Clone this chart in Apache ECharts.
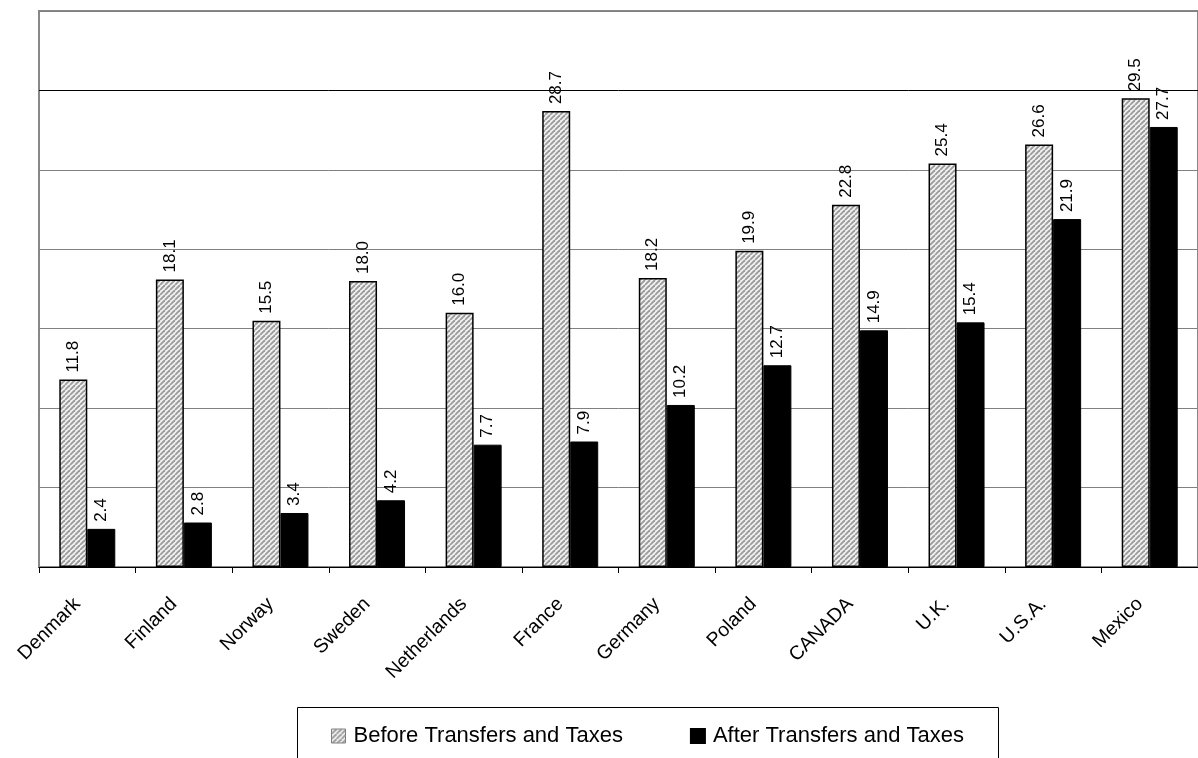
<!DOCTYPE html>
<html>
<head>
<meta charset="utf-8">
<script src="https://cdn.jsdelivr.net/npm/echarts@6/dist/echarts.min.js"></script>
<style>
  html, body { margin: 0; padding: 0; background: #fff; }
  #chart { width: 1198px; height: 758px; }
</style>
</head>
<body>
<div id="chart"></div>
<script>
const countries = ['Denmark', 'Finland', 'Norway', 'Sweden', 'Netherlands', 'France',
  'Germany', 'Poland', 'CANADA', 'U.K.', 'U.S.A.', 'Mexico'];
const beforeValues = [11.8, 18.1, 15.5, 18.0, 16.0, 28.7, 18.2, 19.9, 22.8, 25.4, 26.6, 29.5];
const afterValues = [2.4, 2.8, 3.4, 4.2, 7.7, 7.9, 10.2, 12.7, 14.9, 15.4, 21.9, 27.7];
const seriesNames = ['Before Transfers and Taxes', 'After Transfers and Taxes'];

const FONT = 'Arial, "Liberation Sans", sans-serif';

// diagonal hatch fill for the "before" bars
function makeHatch() {
  const n = 5;
  const c = document.createElement('canvas');
  c.width = n;
  c.height = n;
  const ctx = c.getContext('2d');
  ctx.fillStyle = '#f2f2f2';
  ctx.fillRect(0, 0, n, n);
  ctx.strokeStyle = '#9c9c9c';
  ctx.lineWidth = 1.9;
  for (let k = -n; k <= 2 * n; k += n) {
    ctx.beginPath();
    ctx.moveTo(k, n);
    ctx.lineTo(k + n, 0);
    ctx.stroke();
  }
  return c;
}
const hatch = { image: makeHatch(), repeat: 'repeat' };

const chart = echarts.init(document.getElementById('chart'));

const labelOpt = {
  show: true,
  position: 'top',
  rotate: 90,
  align: 'left',
  verticalAlign: 'middle',
  distance: 7,
  fontSize: 17,
  fontFamily: FONT,
  color: '#000',
  formatter: (p) => p.value.toFixed(1),
};

chart.setOption({
  backgroundColor: '#fff',
  animation: false,
  grid: {
    left: 39,
    top: 11,
    width: 1164,
    bottom: 191,
    show: true,
    borderColor: '#888',
    borderWidth: 2,
    containLabel: false,
  },
  graphic: [
    {
      type: 'rect',
      left: 297,
      top: 707,
      shape: { width: 701, height: 100 },
      style: { fill: '#fff', stroke: '#000', lineWidth: 1 },
      z: -1,
    },
  ],
  legend: {
    top: 725,
    left: 331,
    padding: 0,
    icon: 'rect',
    itemWidth: 14,
    itemHeight: 14,
    itemGap: 67,
    textStyle: { fontSize: 22, fontFamily: FONT, color: '#000', padding: [0, 0, 0, 3] },
    data: [
      { name: seriesNames[0], itemStyle: { borderColor: '#808080', borderWidth: 1 } },
      { name: seriesNames[1] },
    ],
  },
  xAxis: {
    type: 'category',
    data: countries,
    boundaryGap: true,
    axisLine: { lineStyle: { color: '#000', width: 1 } },
    axisTick: { show: true, length: 6, lineStyle: { color: '#000' } },
    axisLabel: {
      interval: 0,
      rotate: 45,
      margin: 10,
      align: 'right',
      verticalAlign: 'top',
      padding: [0, 24, 0, 0],
      fontSize: 19.5,
      fontFamily: FONT,
      color: '#000',
    },
  },
  yAxis: {
    type: 'value',
    min: 0,
    max: 35,
    interval: 5,
    axisLabel: { show: false },
    axisTick: { show: false },
    axisLine: { show: false },
    splitLine: {
      show: true,
      lineStyle: {
        color: ['#808080', '#808080', '#808080', '#808080', '#808080', '#808080', '#000', '#808080'],
        width: 1,
      },
    },
  },
  series: [
    {
      name: seriesNames[0],
      type: 'bar',
      data: beforeValues,
      barWidth: 28,
      barGap: '0%',
      itemStyle: { color: hatch, borderColor: '#000', borderWidth: 1.5 },
      label: labelOpt,
    },
    {
      name: seriesNames[1],
      type: 'bar',
      data: afterValues,
      barWidth: 28,
      itemStyle: { color: '#000', borderColor: '#000', borderWidth: 1 },
      label: labelOpt,
    },
  ],
});
</script>
</body>
</html>
